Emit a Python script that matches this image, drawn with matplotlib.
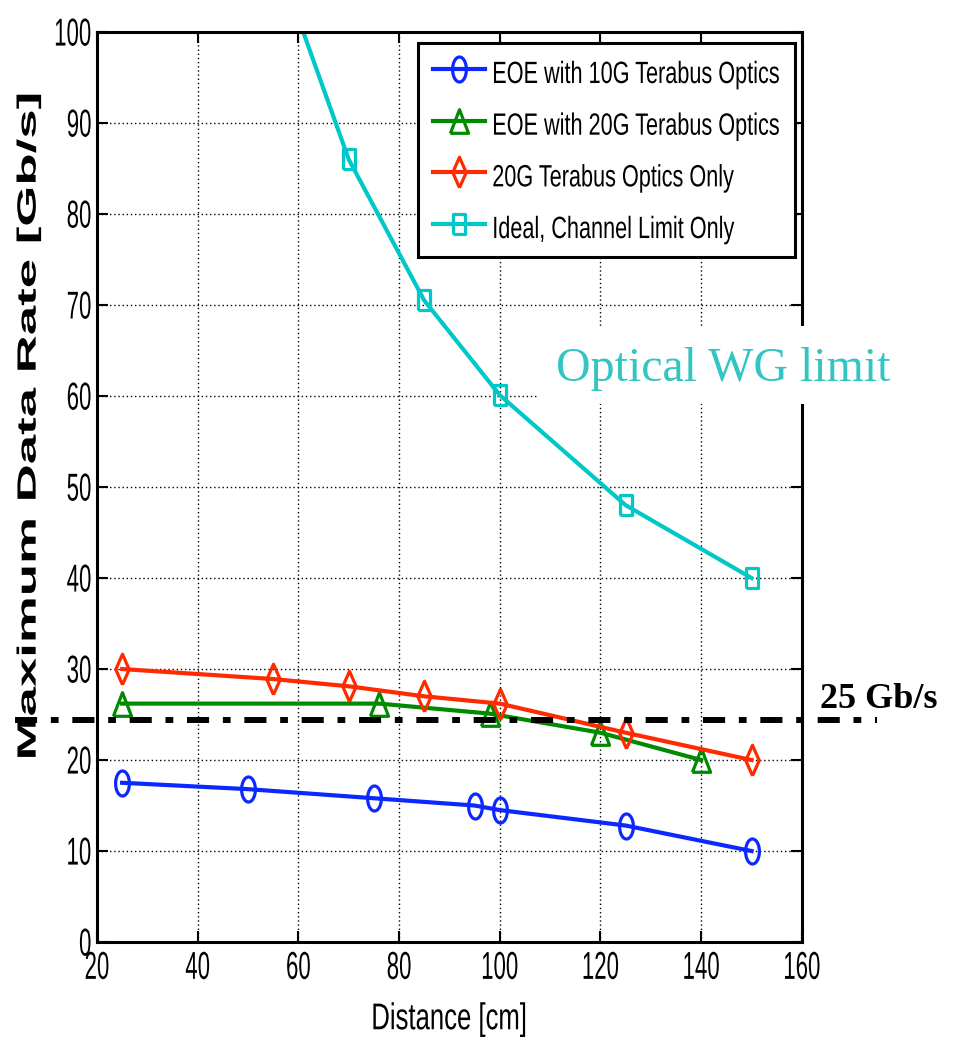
import matplotlib
matplotlib.use("Agg")
import matplotlib.pyplot as plt
import matplotlib.patheffects as pe
from matplotlib.transforms import Affine2D
from matplotlib.patches import Rectangle
import numpy as np

# data
dist_10g = [25, 50, 75, 95, 100, 125, 150]
rate_10g = [17.5, 16.8, 15.8, 15.0, 14.5, 12.8, 10.0]

dist_20g = [25, 76, 98, 120, 140]
rate_20g = [26.2, 26.2, 25.1, 23.0, 20.0]

dist_opt = [25, 55, 70, 85, 100, 125, 150]
rate_opt = [30.0, 28.9, 28.1, 27.0, 26.2, 23.0, 20.0]

# ideal curve: first points are off the top of the plot (no marker there)
dist_ideal = [50, 60, 70, 85, 100, 125, 150]
rate_ideal = [118, 101.5, 86.0, 70.5, 60.1, 48.0, 40.0]

limit_25g = 24.4

labels = ["EOE with 10G Terabus Optics", "EOE with 20G Terabus Optics",
          "20G Terabus Optics Only", "Ideal, Channel Limit Only"]


class Stretch(pe.AbstractPathEffect):
    """scale text glyphs in their own frame (the original figure is squashed)
    x scaling is done about the middle of the string so centring holds"""
    def __init__(self, sx=1.0, sy=1.0, offset=(0, 0)):
        super().__init__(offset)
        self.sx, self.sy = sx, sy

    def draw_path(self, renderer, gc, tpath, affine, rgbFace=None):
        xs = tpath.vertices[:, 0]
        mid = 0.5 * (xs.min() + xs.max()) if len(xs) else 0.0
        tr = Affine2D().translate(-mid, 0).scale(self.sx, self.sy) \
            .translate(mid, 0) + affine + self._offset_transform(renderer)
        renderer.draw_path(gc, tpath, tr, rgbFace)


plt.rcParams['font.family'] = ["Liberation Sans", "DejaVu Sans"]
serif = ["Liberation Serif", "DejaVu Serif"]

# tall markers, same reason
t = np.linspace(0, 2 * np.pi, 60)
m_ellipse = list(zip(0.55 * np.cos(t), np.sin(t)))
m_tri = [(-0.5, -0.65), (0.5, -0.65), (0, 0.65), (-0.5, -0.65)]
m_diam = [(0, -1), (0.44, 0), (0, 1), (-0.44, 0), (0, -1)]
m_sq = [(-0.3, -0.5), (0.3, -0.5), (0.3, 0.5), (-0.3, 0.5), (-0.3, -0.5)]

fig = plt.figure(figsize=(9.59, 10.46), dpi=100)
ax = fig.add_axes([0.1011, 0.0994, 0.7351, 0.8700])

lw = 3.0
mew = 2.3
ax.plot(dist_10g, rate_10g, '-', marker=m_ellipse, color='#0a28ff', lw=lw,
        ms=18, mew=mew, mfc='none', label=labels[0])
ax.plot(dist_20g, rate_20g, '-', marker=m_tri, color='#008a00', lw=lw,
        ms=17, mew=mew, mfc='none', label=labels[1])
ax.plot(dist_opt, rate_opt, '-', marker=m_diam, color='#ff2a00', lw=lw,
        ms=22, mew=mew, mfc='none', label=labels[2])
ax.plot(dist_ideal, rate_ideal, '-', marker=m_sq, color='#00c8c8', lw=lw,
        ms=15, mew=mew, mfc='none', markevery=[2, 3, 4, 5, 6],
        label=labels[3])

ax.set_xlim(20, 160)
ax.set_ylim(0, 100)
ax.set_xticks(np.arange(20, 161, 20))
ax.set_yticks(np.arange(0, 101, 10))
ax.grid(True, linestyle=(0, (1, 2)), color='black', lw=1.0)
ax.tick_params(direction='in', length=8, width=1.5, top=True, right=True,
               labelsize=16)
ax.tick_params(axis='x', pad=15)
ax.tick_params(axis='y', pad=4)
for s in ax.spines.values():
    s.set_linewidth(2.2)

for tk in ax.xaxis.get_major_ticks():
    tk.label1.set_path_effects([Stretch(sy=1.75)])
for tk in ax.yaxis.get_major_ticks():
    tk.label1.set_path_effects([Stretch(sy=1.75, offset=(0, -4))])

ax.set_xlabel("Distance [cm]", fontsize=18.5, labelpad=19,
              path_effects=[Stretch(sy=1.45)])
ax.set_ylabel("Maximum Data Rate [Gb/s]", fontsize=19, fontweight='bold',
              ha='center', va='baseline', path_effects=[Stretch(sx=2.0)])
ax.yaxis.set_label_coords(-0.087, 0.566)

leg = ax.legend(loc='upper left', bbox_to_anchor=(0.455, 0.988),
                borderaxespad=0, prop={'size': 15.6}, fancybox=False,
                framealpha=1, edgecolor='black', borderpad=0.72,
                handlelength=2.4, handleheight=1.6, labelspacing=1.1,
                handletextpad=0.32)
leg.get_frame().set_linewidth(2.2)
for txt in leg.get_texts():
    txt.set_path_effects([Stretch(sy=1.42, offset=(0, -2.5))])

# 25 Gb/s line, running past both sides of the axes
ax.plot([3.7, 175.0], [limit_25g, limit_25g], color='black', lw=4.3,
        linestyle=(0, (3.7, 2.3, 1.3, 2.3)), clip_on=False, zorder=5)
ax.text(163.5, 26.6, "25 Gb/s", family=serif, fontsize=26,
        fontweight='bold', ha='left', va='center', clip_on=False)

# white box covering the grid/spine behind the annotation
fig.patches.append(Rectangle((537 / 959, 1 - 404 / 1046), 370 / 959,
                             78 / 1046, transform=fig.transFigure,
                             facecolor='white', edgecolor='none', zorder=3))
fig.text(723 / 959, 1 - 369 / 1046, "Optical WG limit", family=serif,
         fontsize=34.5, color='#33c4c4', ha='center', va='center', zorder=4)

plt.savefig("out.png", dpi=100)
